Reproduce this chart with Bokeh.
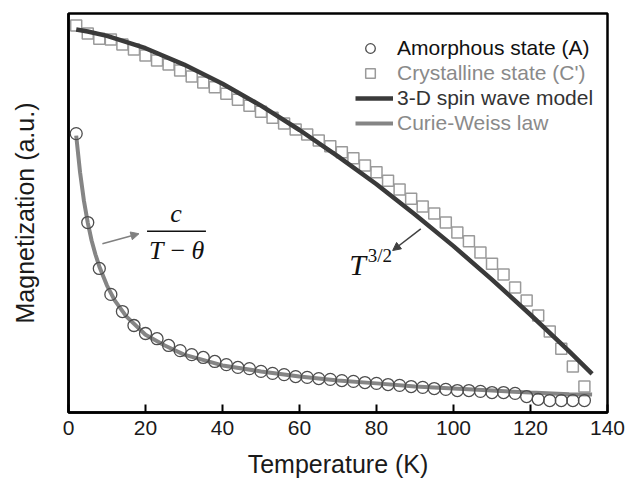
from bokeh.plotting import figure
from bokeh.models import Range1d, FixedTicker, Legend, LegendItem, Label, Arrow, NormalHead
from bokeh.embed import file_html
from bokeh.resources import INLINE

# ---------------- data ----------------
temperature = [2, 5, 8, 11, 14, 17, 20, 23, 26, 29, 32, 35, 38, 41, 44, 47, 50, 53, 56, 59,
               62, 65, 68, 71, 74, 77, 80, 83, 86, 89, 92, 95, 98, 101, 104, 107, 110, 113,
               116, 119, 122, 125, 128, 131, 134]

amorphous = [0.699, 0.476, 0.361, 0.296, 0.253, 0.218, 0.198, 0.185, 0.168, 0.155,
             0.145, 0.138, 0.128, 0.120, 0.113, 0.110, 0.103, 0.098, 0.095, 0.090,
             0.088, 0.085, 0.083, 0.080, 0.078, 0.075, 0.073, 0.070, 0.068, 0.065,
             0.063, 0.060, 0.058, 0.055, 0.055, 0.053, 0.050, 0.050, 0.048, 0.040,
             0.033, 0.030, 0.030, 0.030, 0.030]

crystalline = [0.970, 0.950, 0.937, 0.935, 0.922, 0.910, 0.895, 0.882, 0.872, 0.857,
               0.842, 0.827, 0.815, 0.799, 0.784, 0.769, 0.754, 0.739, 0.724, 0.709,
               0.697, 0.682, 0.667, 0.652, 0.637, 0.619, 0.602, 0.581, 0.559, 0.536,
               0.516, 0.499, 0.476, 0.451, 0.429, 0.401, 0.373, 0.346, 0.313, 0.281,
               0.243, 0.203, 0.160, 0.115, 0.065]

spin_wave_T = [2, 5, 10, 20, 30, 40, 50, 60, 70, 80, 90, 100, 110, 120, 130, 136]
spin_wave_M = [0.960, 0.955, 0.944, 0.913, 0.872, 0.824, 0.769, 0.708, 0.642, 0.572,
               0.496, 0.417, 0.333, 0.245, 0.154, 0.097]

curie_T = [2, 3, 4, 5, 6, 7, 8, 10, 12, 15, 20, 25, 30, 40, 50, 60, 70, 80, 90, 100,
           110, 120, 130, 136]
curie_M = [0.694, 0.602, 0.531, 0.476, 0.431, 0.396, 0.366, 0.318, 0.281, 0.241, 0.195,
           0.168, 0.145, 0.118, 0.103, 0.090, 0.080, 0.073, 0.065, 0.060, 0.055, 0.050,
           0.046, 0.045]

x_ticks = [0, 20, 40, 60, 80, 100, 120, 140]

legend_labels = ["Amorphous state (A)", "Crystalline state (C')",
                 "3-D spin wave model", "Curie-Weiss law"]

SANS = "Liberation Sans"
SERIF = "Liberation Serif"

# ---------------- figure ----------------
p = figure(width=625, height=480, output_backend="svg", toolbar_location=None,
           x_range=Range1d(0, 140), y_range=Range1d(0, 1),
           min_border_left=68, min_border_right=18, min_border_top=13, min_border_bottom=68)
p.grid.visible = False
p.background_fill_color = "white"
p.border_fill_color = "white"
p.outline_line_color = "black"
p.outline_line_width = 2.5
p.outline_line_alpha = 1.0

xa = p.xaxis[0]
xa.ticker = FixedTicker(ticks=x_ticks)
xa.axis_line_color = "black"
xa.axis_line_width = 2.5
xa.major_tick_in = 8
xa.major_tick_out = 0
xa.major_tick_line_width = 2
xa.minor_tick_line_color = None
xa.major_label_text_font = SANS
xa.major_label_text_font_size = "21px"
xa.major_label_text_color = "#1a1a1a"
xa.major_label_standoff = 8
xa.axis_label = "Temperature (K)"
xa.axis_label_text_font = SANS
xa.axis_label_text_font_size = "25px"
xa.axis_label_text_font_style = "normal"
xa.axis_label_text_color = "#1a1a1a"
xa.axis_label_standoff = 12

ya = p.yaxis[0]
ya.ticker = FixedTicker(ticks=[])
ya.axis_line_color = "black"
ya.axis_line_width = 2.5
ya.major_tick_line_color = None
ya.minor_tick_line_color = None
ya.major_label_standoff = 0
ya.axis_label = "Magnetization (a.u.)"
ya.axis_label_text_font = SANS
ya.axis_label_text_font_size = "25px"
ya.axis_label_text_font_style = "normal"
ya.axis_label_text_color = "#1a1a1a"
ya.axis_label_standoff = 30

# ---------------- series ----------------
r_sq = p.scatter(temperature, crystalline, marker="square", size=11,
                 fill_color=None, line_color="#9a9a9a", line_width=1.5)
r_sw = p.line(spin_wave_T, spin_wave_M, line_color="#3a3a3a", line_width=4.5)
r_cw = p.line(curie_T, curie_M, line_color="#858585", line_width=4)
r_ci = p.scatter(temperature, amorphous, marker="circle", size=12,
                 fill_color=None, line_color="#4d4d4d", line_width=1.3)

# ---------------- legend (one per row so each label keeps its colour) ----------------
legend_specs = [
    (legend_labels[0], r_ci, "#111111", 352, 30, 12),
    (legend_labels[1], r_sq, "#8a8a8a", 327, 30, 12),
    (legend_labels[2], r_sw, "#333333", 302, 38, 4),
    (legend_labels[3], r_cw, "#8a8a8a", 277, 38, 4),
]
for label, rend, col, ly, gw, so in legend_specs:
    leg = Legend(items=[LegendItem(label=label, renderers=[rend])],
                 location=(287, ly), padding=0, margin=0, spacing=0,
                 glyph_width=gw, glyph_height=24, label_height=24,
                 label_standoff=so, border_line_color=None,
                 background_fill_alpha=0,
                 label_text_font=SANS, label_text_font_size="21px",
                 label_text_color=col)
    p.add_layout(leg)

# ---------------- annotations ----------------
p.add_layout(Label(x=27.9, y=0.500, text="c", text_font=SERIF, text_font_style="italic",
                   text_font_size="26px", text_align="center", text_baseline="alphabetic",
                   text_color="#111111"))
p.add_layout(Arrow(x_start=20.4, y_start=0.454, x_end=35.7, y_end=0.454, start=None, end=None,
                   line_color="#111111", line_width=1.5))
p.add_layout(Label(x=28.1, y=0.405, text="T\u2009\u2212\u2009\u03b8", text_font=SERIF,
                   text_font_style="italic", text_font_size="26px", text_align="center",
                   text_baseline="alphabetic", text_color="#111111"))
p.add_layout(Arrow(x_start=8.8, y_start=0.423, x_end=18.3, y_end=0.448,
                   line_color="#808080", line_width=1.5,
                   end=NormalHead(size=8, fill_color="#808080", line_color="#808080")))

p.add_layout(Label(x=72.9, y=0.372, text="T", text_font=SERIF, text_font_style="italic",
                   text_font_size="30px", text_align="left", text_baseline="alphabetic",
                   text_color="#111111"))
p.add_layout(Label(x=77.7, y=0.394, text="3/2", text_font=SERIF,
                   text_font_size="19px", text_align="left", text_baseline="alphabetic",
                   text_color="#111111"))
p.add_layout(Arrow(x_start=91.5, y_start=0.460, x_end=84.2, y_end=0.406,
                   line_color="#404040", line_width=1.5,
                   end=NormalHead(size=8, fill_color="#404040", line_color="#404040")))

open("out.html", "w").write(file_html(p, INLINE))
